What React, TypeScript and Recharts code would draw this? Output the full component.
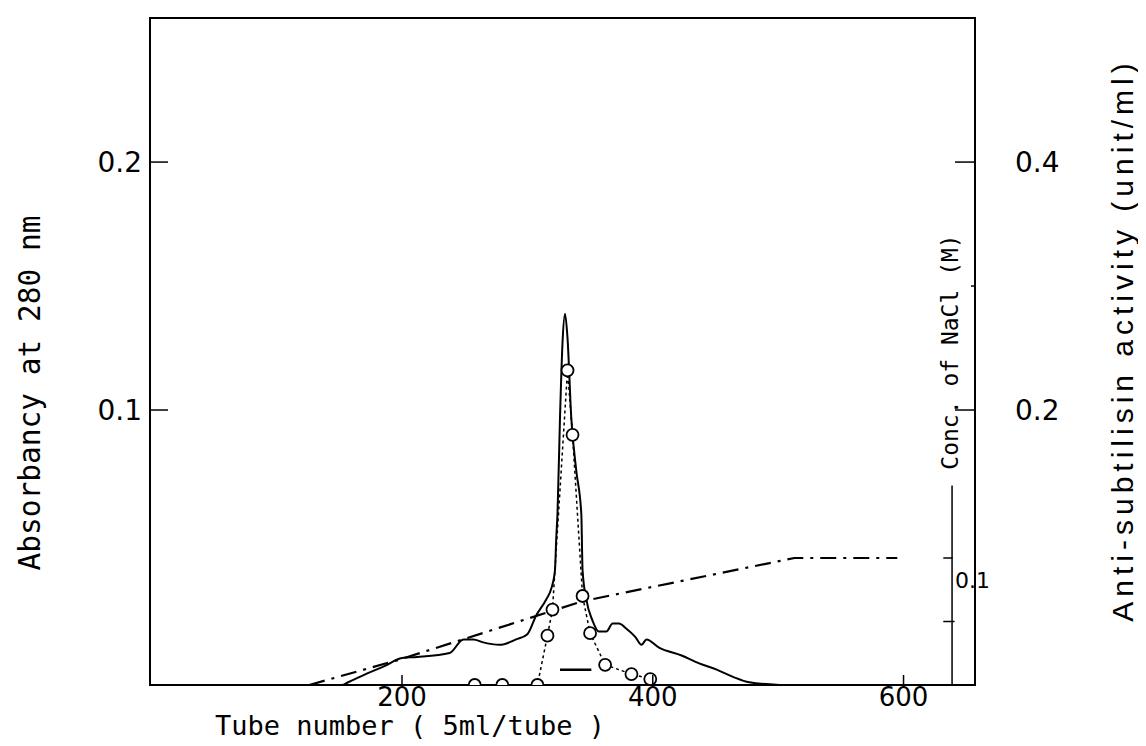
import React from 'react';
import { ComposedChart, Line, XAxis, YAxis, ReferenceLine, ReferenceArea } from 'recharts';

// absorbance at 280 nm (solid line); the curve baseline sits slightly below the 0 of the printed scale
const absTubes = [36, 152, 157, 171, 186, 200, 212, 238, 249, 257, 264, 278, 291, 300, 307, 315, 319, 322, 323, 324, 326, 328, 330, 332, 335, 339, 343, 344, 347, 352, 357, 363, 368, 373, 379, 386, 391, 395, 405, 423, 437, 451, 464, 477, 501];
const absValues = [-0.0109, -0.0109, -0.0098, -0.0065, -0.0033, 0, 0.0004, 0.002, 0.0075, 0.0075, 0.0064, 0.0053, 0.0075, 0.0096, 0.0171, 0.0236, 0.0279, 0.0354, 0.0483, 0.0581, 0.0968, 0.127, 0.1388, 0.129, 0.0968, 0.0755, 0.0581, 0.0354, 0.0236, 0.015, 0.0107, 0.0107, 0.0139, 0.0139, 0.0118, 0.0085, 0.0053, 0.0075, 0.0042, 0.001, -0.0022, -0.0047, -0.0076, -0.0098, -0.0109];

// anti-subtilisin activity (open circles, dotted)
const actTubes = [258, 280, 308, 316, 320, 332, 336, 344, 350, 362, 383, 398];
const actValues = [-0.0218, -0.0218, -0.0218, 0.018, 0.039, 0.232, 0.18, 0.05, 0.02, -0.0055, -0.013, -0.017];

// NaCl gradient (dash-dot)
const naclTubes = [126, 198, 344, 513, 595];
const naclValues = [0, 0.02, 0.066, 0.1, 0.1];

const xTicks = [200, 400, 600];
const absTicks = [0.1, 0.2];
const actTicks = [0.2, 0.3, 0.4];
const naclTicks = [0.05, 0.1];
const naclAxisTube = 638.7;
const naclAxisTop = 0.157;
const poolTubes = [326, 351];
const poolLevel = -0.0048;

const absData = absTubes.map((t, i) => ({ tube: t, abs: absValues[i] }));
const actData = actTubes.map((t, i) => ({ tube: t, act: actValues[i] }));
const naclData = naclTubes.map((t, i) => ({ tube: t, nacl: naclValues[i] }));

const MONO = '"DejaVu Sans Mono", monospace';
const SANS = '"DejaVu Sans", sans-serif';

const XTick = (p: any) => (
  <g>
    <line x1={p.x} y1={p.y} x2={p.x} y2={p.y - 10} stroke="#000" strokeWidth={1.5} />
    <text x={p.x} y={p.y + 12} textAnchor="middle" dominantBaseline="central" fontFamily={SANS} fontSize={26} fill="#000">
      {p.payload.value}
    </text>
  </g>
);

const LeftTick = (p: any) => (
  <g>
    <line x1={p.x} y1={p.y} x2={p.x + 18} y2={p.y} stroke="#000" strokeWidth={1.5} />
    <text x={p.x - 8} y={p.y} textAnchor="end" dominantBaseline="central" fontFamily={SANS} fontSize={28} fill="#000">
      {p.payload.value.toFixed(1)}
    </text>
  </g>
);

const RightTick = (p: any) => {
  const major = Math.abs(p.payload.value - 0.3) > 0.01;
  return (
    <g>
      <line x1={p.x - (major ? 20 : 4)} y1={p.y} x2={p.x} y2={p.y} stroke="#000" strokeWidth={1.5} />
      {major && (
        <text x={p.x + 40} y={p.y} textAnchor="start" dominantBaseline="central" fontFamily={SANS} fontSize={28} fill="#000">
          {p.payload.value.toFixed(1)}
        </text>
      )}
    </g>
  );
};

const xTitle = () => (
  <text x={402} y={717} textAnchor="middle" dominantBaseline="central" fontFamily={MONO} fontSize={27} fill="#000">
    Tube number ( 5ml/tube )
  </text>
);

const leftTitle = () => (
  <text x={22} y={385} transform="rotate(-90 22 385)" textAnchor="middle" dominantBaseline="central" fontFamily={MONO} fontSize={29.5} fill="#000">
    Absorbancy at 280 nm
  </text>
);

const rightTitle = () => (
  <text x={1114} y={332} transform="rotate(-90 1114 332)" textAnchor="middle" dominantBaseline="central" fontFamily='"Liberation Sans", Arial, sans-serif' fontSize={30} letterSpacing={5} fill="#000">
    Anti-subtilisin activity (unit/ml)
  </text>
);

const naclTitle = () => (
  <text x={942} y={344} transform="rotate(-90 942 344)" textAnchor="middle" dominantBaseline="central" fontFamily={MONO} fontSize={23} fill="#000">
    Conc. of NaCl (M)
  </text>
);

const naclLabel = () => (
  <text x={947} y={572} textAnchor="start" dominantBaseline="central" fontFamily={SANS} fontSize={22} fill="#000">
    0.1
  </text>
);

const circleDot = (p: any) => (
  <circle key={`c-${p.index}`} cx={p.cx} cy={p.cy} r={6} fill="#fff" stroke="#000" strokeWidth={1.8} />
);

export default function App() {
  return (
    <div style={{ width: 1138, height: 738, background: '#fff' }}>
      <ComposedChart width={1138} height={738} margin={{ top: 10, right: 0, bottom: 0, left: 0 }}>
        <XAxis
          dataKey="tube"
          type="number"
          domain={[-1, 657]}
          ticks={xTicks}
          allowDataOverflow
          interval={0}
          height={61}
          tickSize={0}
          tickMargin={0}
          tickLine={false}
          axisLine={{ stroke: '#000', strokeWidth: 2 }}
          tick={(p: any) => <XTick {...p} />}
          label={xTitle}
        />
        <YAxis
          yAxisId="abs"
          orientation="left"
          width={142}
          domain={[-0.0109, 0.2581]}
          ticks={absTicks}
          allowDataOverflow
          interval={0}
          tickSize={0}
          tickMargin={0}
          tickLine={false}
          axisLine={{ stroke: '#000', strokeWidth: 2 }}
          tick={(p: any) => <LeftTick {...p} />}
          label={leftTitle}
        />
        <YAxis
          yAxisId="act"
          orientation="right"
          width={171}
          domain={[-0.0218, 0.5162]}
          ticks={actTicks}
          allowDataOverflow
          interval={0}
          tickSize={0}
          tickMargin={0}
          tickLine={false}
          axisLine={{ stroke: '#000', strokeWidth: 2 }}
          tick={(p: any) => <RightTick {...p} />}
          label={rightTitle}
        />
        <YAxis yAxisId="nacl" hide domain={[0, 0.5252]} allowDataOverflow />

        <ReferenceArea yAxisId="abs" x1={-1} x2={657} y1={-0.0109} y2={0.2581} fill="none" stroke="#000" strokeWidth={2} />

        {/* inner NaCl scale */}
        <ReferenceLine
          yAxisId="nacl"
          segment={[{ x: naclAxisTube, y: 0 }, { x: naclAxisTube, y: naclAxisTop }]}
          stroke="#000"
          strokeWidth={1.5}
          label={naclTitle}
        />
        {naclTicks.map((v) => (
          <ReferenceLine
            key={`nt-${v}`}
            yAxisId="nacl"
            segment={[{ x: naclAxisTube - 7, y: v }, { x: naclAxisTube + (v > 0.07 ? 0.5 : 2), y: v }]}
            stroke="#000"
            strokeWidth={1.5}
            label={v > 0.07 ? naclLabel : undefined}
          />
        ))}

        {/* pooled fractions bar */}
        <ReferenceLine
          yAxisId="abs"
          segment={[{ x: poolTubes[0], y: poolLevel }, { x: poolTubes[1], y: poolLevel }]}
          stroke="#000"
          strokeWidth={2.5}
        />

        <Line data={naclData} dataKey="nacl" yAxisId="nacl" type="linear" stroke="#000" strokeWidth={2.2} strokeDasharray="16 7 3 7" dot={false} isAnimationActive={false} />
        <Line data={absData} dataKey="abs" yAxisId="abs" type="monotone" stroke="#000" strokeWidth={2} dot={false} isAnimationActive={false} />
        <Line data={actData} dataKey="act" yAxisId="act" type="linear" stroke="#000" strokeWidth={1.5} strokeDasharray="3 3" dot={circleDot} isAnimationActive={false} />
      </ComposedChart>
    </div>
  );
}
